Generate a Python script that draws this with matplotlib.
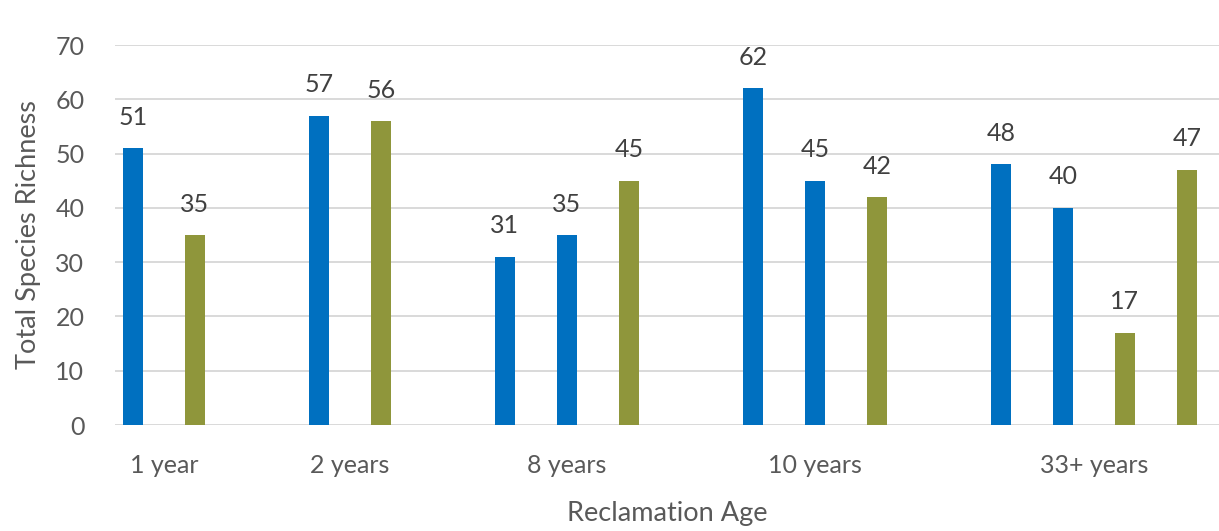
"""
Total species richness by reclamation age, one bar per sampled site.
"""

import matplotlib.pyplot as plt
import numpy as np

categories = ["1 year", "2 years", "8 years", "10 years", "33+ years"]
site_values = [
    [51, 35],
    [57, 56],
    [31, 35, 45],
    [62, 45, 42],
    [48, 40, 17, 47],
]
site_colors = [
    ["blue", "green"],
    ["blue", "green"],
    ["blue", "blue", "green"],
    ["blue", "blue", "green"],
    ["blue", "blue", "green", "green"],
]
yticks = [0, 10, 20, 30, 40, 50, 60, 70]

PALETTE = {"blue": "#0070C0", "green": "#8F963B"}
TEXT = "#595959"
GRID = "#D9D9D9"

plt.rcParams["font.family"] = ["Lato", "DejaVu Sans"]

fig = plt.figure(figsize=(12.19, 5.31), dpi=100)
ax = fig.add_axes([0.0943, 0.1996, 0.9057, 0.7156])

# lay bars out on a slot grid, leaving two empty slots between age groups
slot = 0
centers = []
for vals, cols in zip(site_values, site_colors):
    xs = np.arange(slot, slot + len(vals))
    centers.append(xs.mean())
    bars = ax.bar(xs, vals, width=0.32, color=[PALETTE[c] for c in cols], zorder=3)
    for b, v in zip(bars, vals):
        ax.annotate(str(v), (b.get_x() + b.get_width() / 2, v),
                    xytext=(0, 14), textcoords="offset points",
                    ha="center", va="bottom", fontsize=18, color="#404040")
    slot += len(vals) + 1

ax.set_xlim(-0.29, 17.52)
ax.set_ylim(0, 70)
ax.set_yticks(yticks)
ax.set_xticks(centers)
ax.set_xticklabels(categories)

ax.grid(axis="y", color=GRID, linewidth=1.4, zorder=0)
for s in ax.spines.values():
    s.set_visible(False)
ax.tick_params(length=0, labelsize=18, labelcolor=TEXT)
ax.tick_params(axis="x", pad=21)
ax.tick_params(axis="y", pad=22)

ax.set_xlabel("Reclamation Age", fontsize=19.5, color=TEXT, labelpad=17)
ax.set_ylabel("Total Species Richness", fontsize=19.5, color=TEXT, labelpad=10)

fig.savefig("out.png", dpi=100)
